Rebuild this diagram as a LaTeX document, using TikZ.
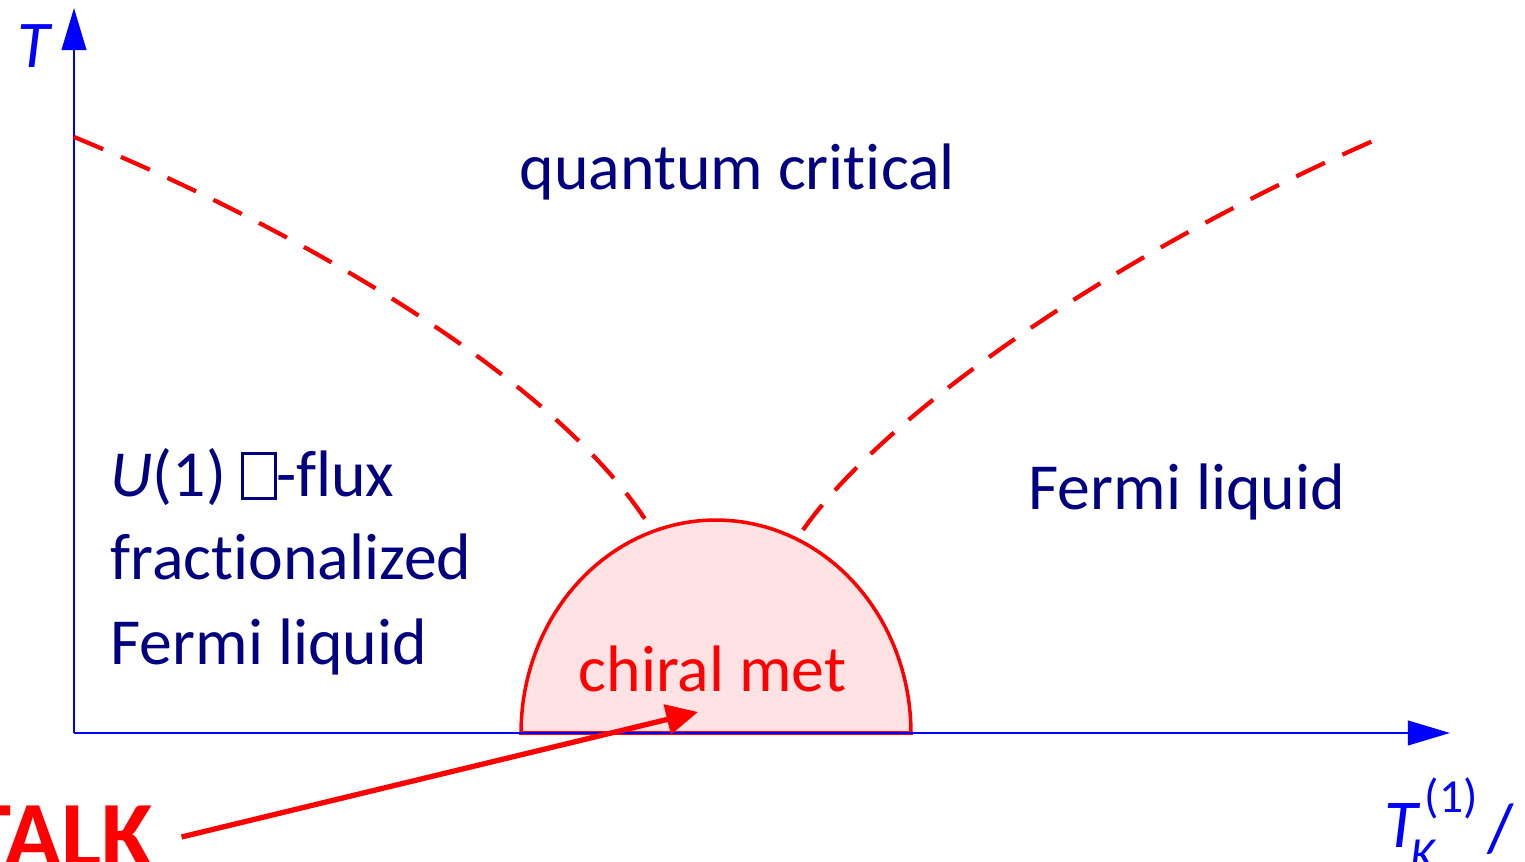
\documentclass[tikz,border=0pt]{standalone}
\usepackage{fontspec}
\setmainfont{Carlito}[Ligatures={NoCommon}]
\usetikzlibrary{arrows.meta}
\definecolor{navy}{RGB}{0,0,128}
\definecolor{axisblue}{RGB}{0,0,255}
\definecolor{pred}{RGB}{255,0,0}
\definecolor{domefill}{RGB}{255,226,228}
\newcommand{\missingbox}{{\setlength{\fboxsep}{0pt}\setlength{\fboxrule}{0.75pt}\raisebox{0.0em}{\fbox{\rule{0pt}{0.64em}\hspace{0.46em}}}}}
\begin{document}
\begin{tikzpicture}[x=0.01cm,y=-0.01cm,
  axis/.style={draw=axisblue,line width=0.65pt,-{Triangle[length=12pt,width=7pt]}},
  phase/.style={draw=pred,line width=1.2pt,dash pattern=on 9pt off 5.5pt},
  dome/.style={draw=pred,line width=1.0pt,fill=domefill},
  lbl/.style={inner sep=0pt,anchor=base west,text=navy,font=\fontsize{18.7}{22}\selectfont},
  axlbl/.style={inner sep=0pt,anchor=base west,text=axisblue},
  talkarrow/.style={draw=pred,line width=1.5pt,-{Triangle[length=9pt,width=8.5pt]}}]
\useasboundingbox (0,0) rectangle (1525,862);
% dome
\filldraw[dome] plot[domain=180:360,samples=80] ({716+195*cos(\x)},{733+213*sin(\x)}) -- cycle;
% axes
\coordinate (o) at (74,733);
\coordinate (ytip) at (74,8);
\coordinate (xtip) at (1450,733);
\draw[axis] (o) -- (ytip);
\draw[axis] (o) -- (xtip);
% crossover lines
\coordinate (l0) at (74,137);
\coordinate (l1) at (652,530);
\coordinate (r0) at (803,530);
\coordinate (r1) at (1382,137);
\draw[phase] (l0) .. controls (300,230) and (560,380) .. (l1);
\draw[phase] (r0) .. controls (880,420) and (1100,260) .. (r1);
% labels
\node[axlbl,font=\fontsize{19}{22}\selectfont\itshape] (tlab) at (17,68) {T};
\node[axlbl,font=\fontsize{19.5}{22}\selectfont\itshape] (tk) at (1384,847) {T};
\node[axlbl,font=\fontsize{13.5}{16}\selectfont] (tksup) at (1424,813) {(1)};
\node[axlbl,font=\fontsize{13.5}{16}\selectfont\itshape] (tksub) at (1410,870) {K};
\node[axlbl,font=\fontsize{19.5}{22}\selectfont] (tkslash) at (1487,852) {/};
\node[lbl] (qc) at (519,190) {quantum critical};
\node[lbl] (fl) at (1028,510) {Fermi liquid};
\node[lbl] (u1a) at (110,497) {\textit{U}(1) \missingbox-flux};
\node[lbl] (u1b) at (110,580) {fractionalized};
\node[lbl] (u1c) at (110,665) {Fermi liquid};
\node[lbl,text=pred] (cm) at (578,692) {chiral met};
\node[inner sep=0pt,anchor=base west,text=pred,font=\fontsize{27}{30}\selectfont\bfseries] (talk) at (-36,867) {TALK};
\coordinate (atip) at (698,712);
\draw[talkarrow] ([xshift=0.27cm,yshift=0.3cm]talk.base east) -- (atip);
\end{tikzpicture}
\end{document}
